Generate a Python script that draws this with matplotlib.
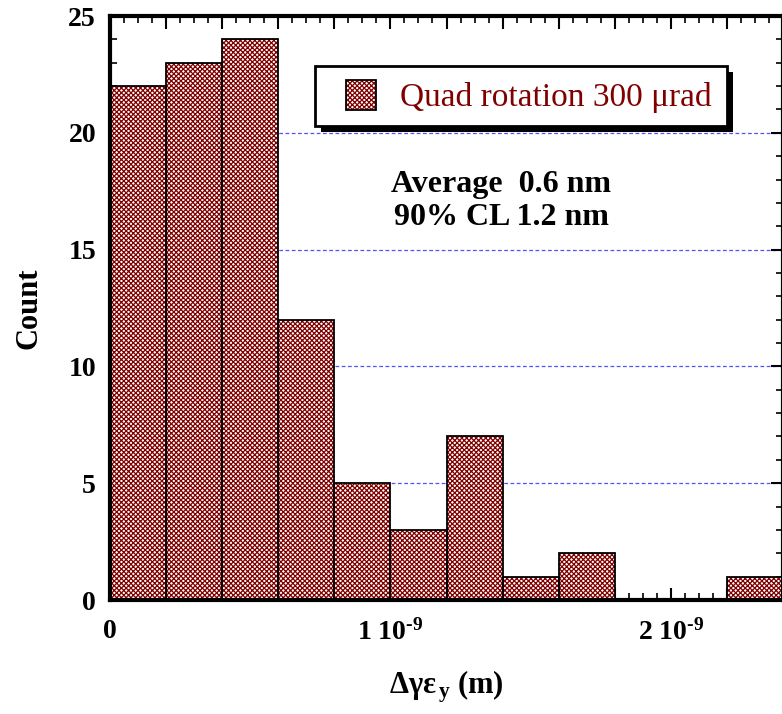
import numpy as np
import matplotlib
matplotlib.use("Agg")
import matplotlib.pyplot as plt
from matplotlib.ticker import MultipleLocator, FuncFormatter
from matplotlib.patches import Rectangle

plt.rcParams['font.family'] = ['Liberation Serif', 'DejaVu Serif']
plt.rcParams['mathtext.fontset'] = 'custom'
plt.rcParams['mathtext.rm'] = 'Liberation Serif:bold'
plt.rcParams['mathtext.it'] = 'Liberation Serif:bold'
plt.rcParams['mathtext.bf'] = 'Liberation Serif:bold'
plt.rcParams['hatch.linewidth'] = 0.9

# data
bin_edges = [0.0, 0.2e-9, 0.4e-9, 0.6e-9, 0.8e-9, 1.0e-9, 1.2e-9, 1.4e-9,
             1.6e-9, 1.8e-9, 2.0e-9, 2.2e-9, 2.4e-9]
counts = [22, 23, 24, 12, 5, 3, 7, 1, 2, 0, 0, 1]
legend_label = "Quad rotation 300 \u03bcrad"
stats_text = "Average  0.6 nm\n90% CL 1.2 nm"
grid_levels = [5, 10, 15, 20]

dark_red = '#800000'
W, H = 782, 714

fig = plt.figure(figsize=(W / 100, H / 100), dpi=100)
AX_L, AX_R, AX_T, AX_B = 110, 783, 16, 600
ax = fig.add_axes([AX_L / W, 1 - AX_B / H, (AX_R - AX_L) / W, (AX_B - AX_T) / H])


def px2ax(x, y):
    return (x - AX_L) / (AX_R - AX_L), (AX_B - y) / (AX_B - AX_T)


lefts = np.array(bin_edges[:-1])
widths = np.diff(bin_edges)

for g in grid_levels:
    ax.axhline(g, color='#5050ff', lw=0.9, ls=(0, (3, 2)), zorder=0.5)

ax.bar(lefts, counts, width=widths, align='edge', facecolor='white',
       edgecolor=dark_red, hatch='xxxxxxx', linewidth=0, zorder=2)
ax.bar(lefts, counts, width=widths, align='edge', facecolor='none',
       edgecolor='black', linewidth=1.3, zorder=3)

ax.set_xlim(0, 2.4e-9)
ax.set_ylim(0, 25)

for s in ax.spines.values():
    s.set_linewidth(3.0)
    s.set_zorder(5)

ax.xaxis.set_major_locator(MultipleLocator(0.2e-9))
ax.xaxis.set_minor_locator(MultipleLocator(0.05e-9))
ax.yaxis.set_major_locator(MultipleLocator(5))
ax.yaxis.set_minor_locator(MultipleLocator(1))


def xfmt(v, pos):
    n = round(v / 1e-9, 6)
    if abs(n - round(n)) < 1e-6:
        k = int(round(n))
        if k == 0:
            return '0'
        return r'%d 10$^{\text{-}9}$' % k
    return ''


ax.xaxis.set_major_formatter(FuncFormatter(xfmt))
ax.tick_params(which='both', direction='in', top=True, right=True)
ax.tick_params(which='major', length=9, width=1.5, labelsize=20, pad=14)
ax.tick_params(which='minor', length=5, width=1.2)
ax.tick_params(axis='y', which='major', pad=10)
for lab in ax.get_xticklabels() + ax.get_yticklabels():
    lab.set_fontweight('bold')

ax.set_ylabel('Count', fontsize=22, fontweight='bold', labelpad=18)
ax.set_xlabel(r'$\Delta\gamma\epsilon_{\,y}$ (m)', fontsize=22, fontweight='bold', labelpad=16)

# legend box (drawn with shadow)
x0, y0 = px2ax(315, 126)
x1, y1 = px2ax(727, 66)
sx0, sy0 = px2ax(321, 132)
ax.add_patch(Rectangle((sx0, sy0), x1 - x0, y1 - y0, transform=ax.transAxes,
                       facecolor='black', edgecolor='none', zorder=6, clip_on=False))
ax.add_patch(Rectangle((x0, y0), x1 - x0, y1 - y0, transform=ax.transAxes,
                       facecolor='white', edgecolor='black', linewidth=2.0, zorder=7,
                       clip_on=False))
hx0, hy0 = px2ax(346, 110)
hx1, hy1 = px2ax(376, 80)
ax.add_patch(Rectangle((hx0, hy0), hx1 - hx0, hy1 - hy0, transform=ax.transAxes,
                       facecolor='white', edgecolor=dark_red, hatch='xxxxxxx',
                       linewidth=0, zorder=8))
ax.add_patch(Rectangle((hx0, hy0), hx1 - hx0, hy1 - hy0, transform=ax.transAxes,
                       facecolor='none', edgecolor='black', linewidth=1.3, zorder=9))
tx, ty = px2ax(400, 97)
ax.text(tx, ty, legend_label, transform=ax.transAxes, ha='left', va='center',
        fontsize=24, color=dark_red, zorder=9)

cx, cy = px2ax(501, 201)
ax.text(cx, cy, stats_text, transform=ax.transAxes, ha='center', va='center',
        fontsize=23, fontweight='bold', linespacing=1.2, zorder=6)

fig.savefig('out.png', dpi=100)
